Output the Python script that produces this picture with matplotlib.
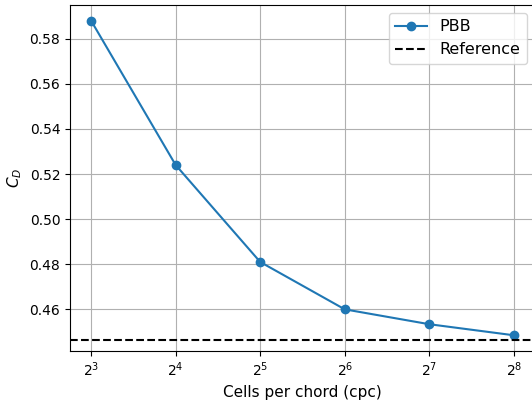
import matplotlib.pyplot as plt
import numpy as np

# Drag coefficient vs. grid resolution
cpc = np.array([8, 16, 32, 64, 128, 256])
cd_pbb = np.array([0.588, 0.524, 0.481, 0.460, 0.4534, 0.4485])
cd_ref = 0.4464

fig = plt.figure(figsize=(5.32, 4.05), dpi=100)
ax = fig.add_axes([70 / 532, 54 / 405, 465 / 532, 346 / 405])

ax.plot(cpc, cd_pbb, marker='o', label='PBB')
ax.axhline(cd_ref, color='black', linestyle='--', label='Reference')
ax.set_xscale('log', base=2)
ax.set_xlabel('Cells per chord (cpc)', fontsize=11)
ax.set_ylabel(r'$C_D$', fontsize=11)
ax.grid(True)
ax.legend(loc='upper right', fontsize=11.5)

fig.savefig('out.png', dpi=100)
